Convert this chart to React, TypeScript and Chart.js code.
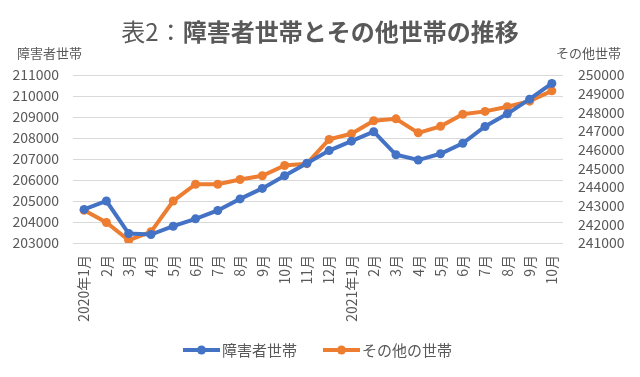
import React, { useEffect, useRef } from 'react';
import { Chart, registerables } from 'chart.js';

Chart.register(...registerables);

const months = [
  '2020年1月', '2月', '3月', '4月', '5月', '6月', '7月', '8月', '9月', '10月', '11月', '12月',
  '2021年1月', '2月', '3月', '4月', '5月', '6月', '7月', '8月', '9月', '10月',
];

const disabledHouseholds = [
  204600, 205000, 203450, 203400, 203800, 204150, 204550, 205100, 205600, 206200, 206800, 207400,
  207850, 208300, 207200, 206950, 207250, 207750, 208550, 209150, 209850, 210600,
];

const otherHouseholds = [
  242750, 242100, 241150, 241600, 243250, 244150, 244150, 244400, 244600, 245150, 245250, 246550,
  246850, 247550, 247650, 246900, 247250, 247900, 248050, 248300, 248600, 249150,
];

const leftMin = 203000;
const leftMax = 211000;
const rightMin = 241000;
const rightMax = 250000;
const tickStep = 1000;

const seriesNames = ['障害者世帯', 'その他の世帯'];
const axisTitles = ['障害者世帯', 'その他世帯'];
const titleNormal = '表2：';
const titleBold = '障害者世帯とその他世帯の推移';

const BLUE = '#4472C4';
const ORANGE = '#ED7D31';
const GRAY = '#595959';
const FONT = '"Noto Sans CJK JP", "Noto Sans", sans-serif';

const overlay = {
  id: 'overlay',
  afterDraw(chart: any) {
    const ctx = chart.ctx as CanvasRenderingContext2D;
    ctx.save();
    // Title
    ctx.fillStyle = GRAY;
    ctx.textBaseline = 'middle';
    ctx.textAlign = 'left';
    ctx.font = `normal 24px ${FONT}`;
    const w1 = ctx.measureText(titleNormal).width;
    ctx.font = `bold 24px ${FONT}`;
    const w2 = ctx.measureText(titleBold).width;
    const startX = 320 - (w1 + w2) / 2;
    ctx.font = `normal 24px ${FONT}`;
    ctx.fillText(titleNormal, startX, 32);
    ctx.font = `bold 24px ${FONT}`;
    ctx.fillText(titleBold, startX + w1, 32);

    // Axis titles
    ctx.font = `normal 13px ${FONT}`;
    ctx.textAlign = 'left';
    ctx.fillText(axisTitles[0], 17, 53);
    ctx.textAlign = 'right';
    ctx.fillText(axisTitles[1], 621, 53);

    // Legend
    const items = [
      { name: seriesNames[0], color: BLUE, x: 183 },
      { name: seriesNames[1], color: ORANGE, x: 323 },
    ];
    const ly = 350;
    ctx.font = `normal 15px ${FONT}`;
    ctx.textAlign = 'left';
    for (const it of items) {
      ctx.strokeStyle = it.color;
      ctx.lineWidth = 4;
      ctx.beginPath();
      ctx.moveTo(it.x, ly);
      ctx.lineTo(it.x + 37, ly);
      ctx.stroke();
      ctx.fillStyle = it.color;
      ctx.beginPath();
      ctx.arc(it.x + 18.5, ly, 4.5, 0, Math.PI * 2);
      ctx.fill();
      ctx.fillStyle = GRAY;
      ctx.fillText(it.name, it.x + 39, ly);
    }
    ctx.restore();
  },
};

const plain = (v: any) => String(v);

export default function App() {
  const ref = useRef<HTMLCanvasElement | null>(null);

  useEffect(() => {
    document.body.style.margin = '0';
    const canvas = ref.current;
    if (!canvas) return;
    const chart = new Chart(canvas, {
      type: 'line',
      data: {
        labels: months,
        datasets: [
          {
            label: seriesNames[0],
            data: disabledHouseholds,
            yAxisID: 'y',
            borderColor: BLUE,
            backgroundColor: BLUE,
            borderWidth: 4,
            pointRadius: 4.5,
            pointBorderWidth: 0,
            pointBackgroundColor: BLUE,
            tension: 0,
          },
          {
            label: seriesNames[1],
            data: otherHouseholds,
            yAxisID: 'y1',
            borderColor: ORANGE,
            backgroundColor: ORANGE,
            borderWidth: 4,
            pointRadius: 4.5,
            pointBorderWidth: 0,
            pointBackgroundColor: ORANGE,
            tension: 0,
          },
        ],
      },
      options: {
        responsive: false,
        animation: false,
        devicePixelRatio: 1,
        layout: { padding: { top: 75, left: 0, right: 0, bottom: 0 } },
        plugins: {
          legend: { display: false },
          title: { display: false },
          tooltip: { enabled: false },
        },
        scales: {
          x: {
            type: 'category',
            offset: true,
            grid: { display: false, drawTicks: false },
            border: { display: false },
            ticks: {
              color: GRAY,
              font: { family: FONT, size: 14 },
              minRotation: 90,
              maxRotation: 90,
              autoSkip: false,
              padding: 12,
            },
            afterFit: (scale: any) => {
              scale.height = 134;
            },
          },
          y: {
            type: 'linear',
            position: 'left',
            min: leftMin,
            max: leftMax,
            ticks: {
              stepSize: tickStep,
              autoSkip: false,
              color: GRAY,
              font: { family: FONT, size: 14 },
              padding: 14,
              callback: plain,
            },
            grid: { color: '#D9D9D9', lineWidth: 1, drawTicks: false },
            border: { display: false },
            afterFit: (scale: any) => {
              scale.width = 73;
            },
          },
          y1: {
            type: 'linear',
            position: 'right',
            min: rightMin,
            max: rightMax,
            ticks: {
              stepSize: tickStep,
              autoSkip: false,
              color: GRAY,
              font: { family: FONT, size: 14 },
              padding: 15,
              callback: plain,
            },
            grid: { display: false, drawTicks: false },
            border: { display: false },
            afterFit: (scale: any) => {
              scale.width = 77;
            },
          },
        },
      },
      plugins: [overlay],
    });
    return () => chart.destroy();
  }, []);

  return (
    <div style={{ width: 640, height: 377, background: '#fff' }}>
      <canvas ref={ref} width={640} height={377} style={{ display: 'block' }} />
    </div>
  );
}
